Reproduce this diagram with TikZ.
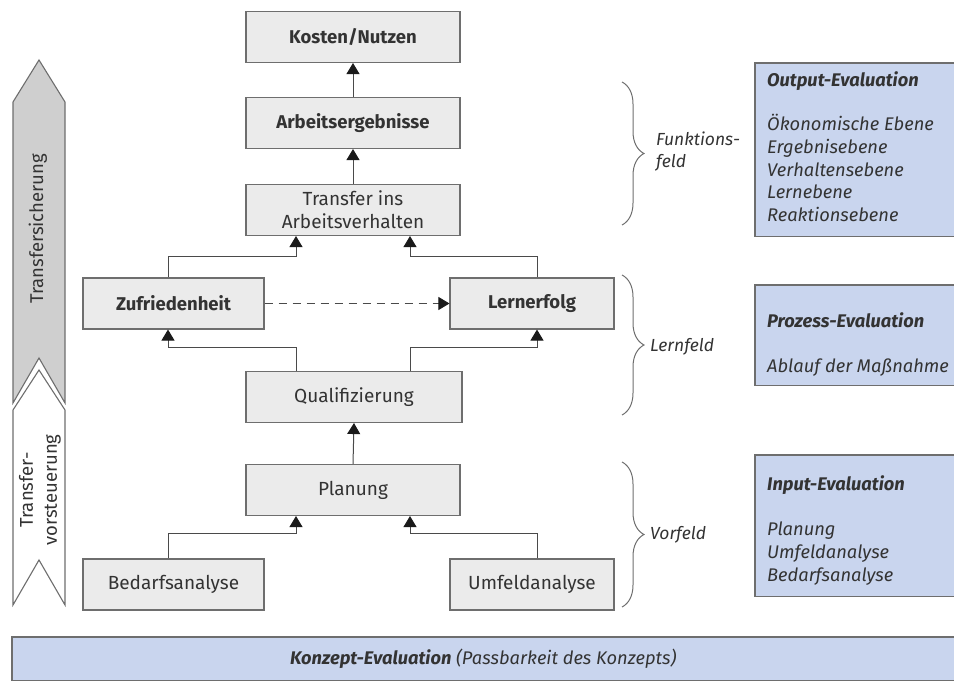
\documentclass[tikz,border=0pt]{standalone}
\usepackage{fontspec}
\setmainfont{Fira Sans}
\usetikzlibrary{arrows.meta,decorations.pathreplacing,calc}
\definecolor{boxfill}{HTML}{EBEBEB}
\definecolor{boxline}{HTML}{6E6E6E}
\definecolor{evalfill}{HTML}{C9D5EE}
\definecolor{txt}{HTML}{333333}
\definecolor{linec}{HTML}{4A4A4A}
\definecolor{tipc}{HTML}{1A1A1A}
\definecolor{arrowfill}{HTML}{CFCFCF}
\begin{document}
\begin{tikzpicture}[x=1pt,y=-1pt,
  box/.style={draw=boxline, fill=boxfill, line width=1.1pt, minimum height=51pt, text=txt,
    font=\fontsize{19}{23}\selectfont, align=center, inner sep=0pt},
  boldbox/.style={box, font=\fontsize{18.5}{23}\selectfont\bfseries},
  conn/.style={draw=linec, line width=1pt, -{Triangle[length=11pt,width=13pt,color=tipc]}},
  evalbox/.style={draw=none, fill=evalfill, inner sep=0pt, anchor=north west, minimum width=199pt},
  evalline/.style={draw=boxline, line width=1.1pt},
  evaltext/.style={anchor=north west, inner sep=0pt, align=left, text=txt,
    font=\fontsize{18.3}{22.7}\selectfont\itshape},
  bracestyle/.style={draw=boxline, line width=1pt, decorate,
    decoration={brace, amplitude=22pt}},
  fieldtext/.style={anchor=west, inner sep=0pt, align=left, text=txt,
    font=\fontsize{17.5}{22}\selectfont\itshape},
  bigarrow/.style={draw=boxline, line width=1.1pt, line join=miter},
  sidetext/.style={rotate=90, text=txt, align=center, inner sep=0pt,
    font=\fontsize{18.5}{24}\selectfont}]
\useasboundingbox (0,0) rectangle (954,684);

% x positions of the branch connectors
\coordinate (cl) at (168,0);
\coordinate (cr) at (537,0);
\coordinate (ml) at (296,0);
\coordinate (mr) at (410,0);

% left arrows
\path[bigarrow, fill=arrowfill] (13,102) -- (39,60) -- (65,102) -- (65,403) -- (39,358) -- (13,403) -- cycle;
\path[bigarrow, fill=white] (13,410) -- (39,370) -- (65,410) -- (65,605) -- (39,560) -- (13,605) -- cycle;
\node[sidetext] (ts) at (38,229) {Transfersicherung};
\node[sidetext] (tv) at (40,490) {Transfer-\\vorsteuerung};

% central boxes
\node[boldbox, minimum width=214pt] (kost) at (353,37) {Kosten/Nutzen};
\node[boldbox, minimum width=214pt] (arb) at (353,123) {Arbeitsergebnisse};
\node[box, minimum width=214pt] (trans) at (353,210) {Transfer ins\\Arbeitsverhalten};
\node[boldbox, minimum width=181pt] (zuf) at (173.5,303.5) {Zufriedenheit};
\node[boldbox, minimum width=164pt] (lern) at (532,303.5) {Lernerfolg};
\node[box, minimum width=216pt] (qual) at (354,397) {Qualifizierung};
\node[box, minimum width=214pt] (plan) at (353,490) {Planung};
\node[box, minimum width=181pt] (bed) at (173.5,584.5) {Bedarfsanalyse};
\node[box, minimum width=164pt] (umf) at (532,584.5) {Umfeldanalyse};

% connectors
\draw[conn] (arb.north) -- (kost.south);
\draw[conn] (trans.north) -- (arb.south);
\draw[conn] (zuf.north -| cl) -- ++(0,-21) -| (trans.south -| ml);
\draw[conn] (lern.north -| cr) -- ++(0,-21) -| (trans.south -| mr);
\draw[conn, dashed, dash pattern=on 8pt off 6pt] (zuf.east) -- (lern.west);
\draw[conn] (qual.north -| ml) -- ++(0,-23) -| (zuf.south -| cl);
\draw[conn] (qual.north -| mr) -- ++(0,-23) -| (lern.south -| cr);
\draw[conn] (plan.north) -- (qual.south);
\draw[conn] (bed.north -| cl) -- ++(0,-25) -| (plan.south -| ml);
\draw[conn] (umf.north -| cr) -- ++(0,-25) -| (plan.south -| mr);

% braces
\draw[bracestyle] (622,82) -- (622,225);
\draw[bracestyle] (622,275) -- (622,415);
\draw[bracestyle] (622,462) -- (622,607);
\node[fieldtext] (ff) at (656,152) {Funktions-\\feld};
\node[fieldtext] (lf) at (650,347) {Lernfeld};
\node[fieldtext] (vf) at (650,535) {Vorfeld};

% evaluation boxes (right edge runs off the picture)
\node[evalbox, minimum height=173pt] (outb) at (755,63) {};
\draw[evalline] (outb.north east) -- (outb.north west) -- (outb.south west) -- (outb.south east);
\node[evaltext] (outt) at (767,71) {\textbf{Output-Evaluation}\\[22pt]
  Ökonomische Ebene\\Ergebnisebene\\Verhaltensebene\\Lernebene\\Reaktionsebene};
\node[evalbox, minimum height=100pt] (prob) at (755,285) {};
\draw[evalline] (prob.north east) -- (prob.north west) -- (prob.south west) -- (prob.south east);
\node[evaltext] (prot) at (767,312) {\textbf{Prozess-Evaluation}\\[23pt]
  Ablauf der Maßnahme};
\node[evalbox, minimum height=141pt] (inb) at (755,455) {};
\draw[evalline] (inb.north east) -- (inb.north west) -- (inb.south west) -- (inb.south east);
\node[evaltext] (int) at (767,475) {\textbf{Input-Evaluation}\\[23pt]
  Planung\\Umfeldanalyse\\Bedarfsanalyse};
\node[evalbox, minimum width=942pt, minimum height=43pt] (konz) at (12,637)
  {\textcolor{txt}{\fontsize{18.3}{22}\selectfont\itshape\textbf{Konzept-Evaluation} (Passbarkeit des Konzepts)}};
\draw[evalline] (konz.north east) -- (konz.north west) -- (konz.south west) -- (konz.south east);
\end{tikzpicture}
\end{document}
